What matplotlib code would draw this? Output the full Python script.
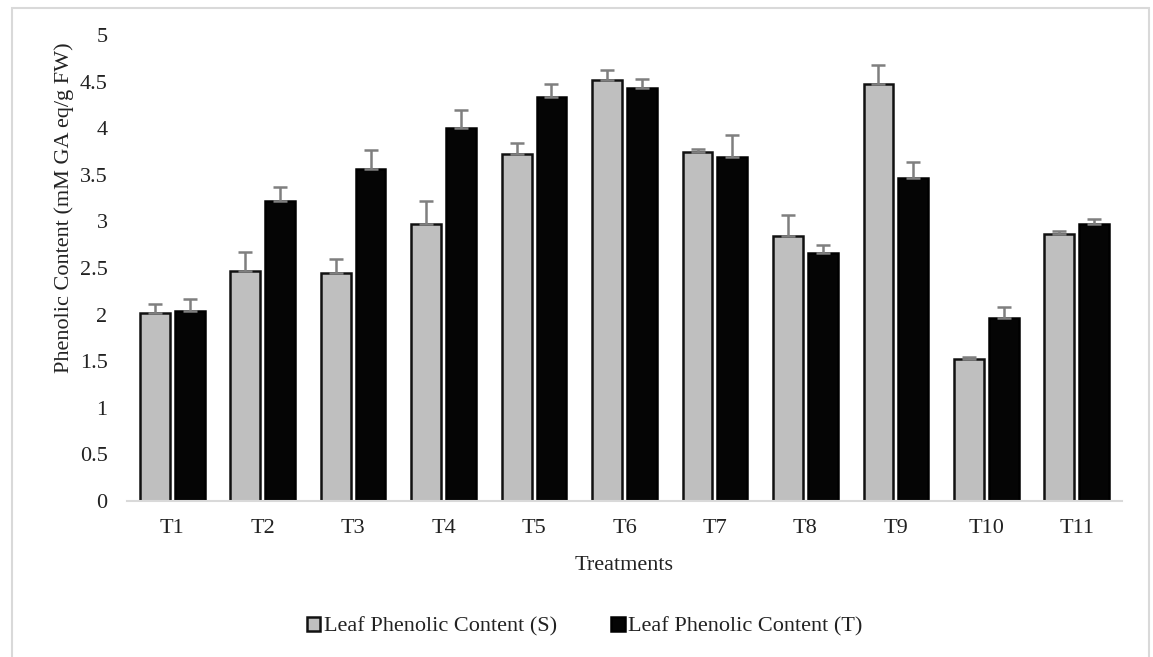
import matplotlib
matplotlib.use("Agg")
import matplotlib.pyplot as plt
import numpy as np
from matplotlib.patches import Rectangle

categories = ["T1", "T2", "T3", "T4", "T5", "T6", "T7", "T8", "T9", "T10", "T11"]
s_values = [2.02, 2.47, 2.45, 2.97, 3.72, 4.52, 3.75, 2.84, 4.47, 1.52, 2.86]
s_errors = [0.09, 0.20, 0.15, 0.25, 0.12, 0.10, 0.03, 0.23, 0.21, 0.03, 0.04]
t_values = [2.04, 3.22, 3.56, 4.00, 4.33, 4.43, 3.69, 2.66, 3.47, 1.96, 2.97]
t_errors = [0.13, 0.15, 0.21, 0.19, 0.14, 0.10, 0.24, 0.09, 0.17, 0.12, 0.06]
yticks = [0, 0.5, 1, 1.5, 2, 2.5, 3, 3.5, 4, 4.5, 5]
ytick_labels = ["0", "0.5", "1", "1.5", "2", "2.5", "3", "3.5", "4", "4.5", "5"]

plt.rcParams['font.family'] = ['Liberation Serif', 'DejaVu Serif']
FS = 16
TXT = '#222222'

fig = plt.figure(figsize=(11.53, 6.57), dpi=100)
fig.patches.append(Rectangle((12/1153, -0.05), (1149-12)/1153, 1 - 8/657 + 0.05,
                             transform=fig.transFigure, fill=False,
                             edgecolor='#d9d9d9', linewidth=1.5))
ax = fig.add_axes([127/1153, 1 - 501/657, (1122-127)/1153, (501-35)/657])

x = np.arange(len(categories))
w = 0.33
gap = 0.055
off = (w + gap) / 2
err_kw = dict(ecolor='#7f7f7f', elinewidth=1.8, capsize=5, capthick=1.8)
b1 = ax.bar(x - off, s_values, w, color='#bfbfbf', edgecolor='#111111', linewidth=1.8,
            yerr=[[0]*len(s_errors), s_errors], error_kw=err_kw,
            label='Leaf Phenolic Content (S)', zorder=2)
b2 = ax.bar(x + off, t_values, w, color='#050505', edgecolor='#000000', linewidth=1.8,
            yerr=[[0]*len(t_errors), t_errors], error_kw=err_kw,
            label='Leaf Phenolic Content (T)', zorder=2)

ax.set_xlim(-0.5, len(categories) - 0.5)
ax.set_ylim(0, 5)
ax.set_yticks(yticks)
ax.set_yticklabels(ytick_labels)
ax.set_xticks(x)
ax.set_xticklabels(categories)
ax.tick_params(axis='both', length=0, labelsize=FS, colors=TXT)
ax.tick_params(axis='y', pad=14)
ax.tick_params(axis='x', pad=13)
for s in ['top', 'right', 'left']:
    ax.spines[s].set_visible(False)
ax.spines['bottom'].set_color('#d9d9d9')
ax.spines['bottom'].set_linewidth(1.5)

ax.set_xlabel('Treatments', fontsize=FS, color=TXT)
ax.xaxis.set_label_coords(0.5, -0.118)
ax.set_ylabel('Phenolic Content (mM GA eq/g FW)', fontsize=FS, color=TXT)
ax.yaxis.set_label_coords(-0.053, 0.629)

leg = fig.legend(handles=[b1, b2], loc='center', bbox_to_anchor=(0.507, 1 - 627/657),
                 ncol=2, frameon=False, fontsize=FS, handlelength=0.6, handleheight=0.6,
                 handletextpad=0.15, columnspacing=2.45)
for t in leg.get_texts():
    t.set_color(TXT)

fig.savefig('out.png', dpi=100)
